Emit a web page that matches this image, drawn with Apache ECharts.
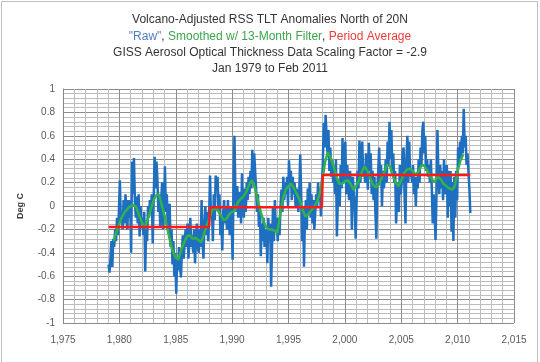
<!DOCTYPE html>
<html><head><meta charset="utf-8">
<script src="https://cdn.jsdelivr.net/npm/echarts@6/dist/echarts.min.js"></script>
<style>html,body{margin:0;padding:0;background:#fff}#c{width:540px;height:362px}</style>
</head><body><div id="c"></div>
<script>
// Monthly "raw" anomalies, Jan 1979 .. Feb 2011
const rawStartYear = 1979;
const rawValues = [
 // 1979
 -0.50,-0.57,-0.45,-0.30,-0.52,-0.28,-0.35,-0.20,-0.30,-0.10,-0.25,-0.05,
 // 1980
 0.22,-0.10,-0.05,-0.20,0.05,-0.15,0.10,-0.05,-0.20,0.05,-0.10,0.05,
 // 1981
 -0.40,0.38,0.10,0.41,0.05,-0.10,0.08,-0.15,0.10,-0.26,0.00,-0.15,
 // 1982
 -0.10,-0.25,-0.05,-0.56,-0.20,-0.30,0.00,-0.10,0.05,-0.05,0.10,-0.32,
 // 1983
 0.05,0.42,0.15,0.38,0.22,-0.05,0.10,-0.18,0.05,0.20,-0.20,0.00,
 // 1984
 0.34,-0.05,0.10,-0.20,-0.10,0.02,-0.35,-0.20,-0.50,-0.30,-0.60,-0.40,
 // 1985
 -0.75,-0.45,-0.55,-0.35,-0.50,-0.61,-0.40,-0.25,-0.45,-0.30,-0.20,-0.35,
 // 1986
 -0.15,-0.45,-0.30,-0.10,-0.35,-0.25,-0.40,-0.20,-0.49,-0.30,-0.15,-0.35,
 // 1987
 -0.40,-0.20,-0.35,0.05,-0.30,-0.45,-0.15,0.00,-0.25,-0.05,-0.30,-0.10,
 // 1988
 0.26,-0.10,0.00,-0.30,0.10,-0.12,0.26,0.15,0.25,-0.05,0.10,-0.25,
 // 1989
 -0.10,-0.38,-0.05,0.05,-0.15,0.00,-0.20,0.05,-0.10,-0.25,0.00,-0.15,
 // 1990
 -0.46,0.15,0.60,0.10,-0.05,0.17,-0.10,0.05,0.12,-0.15,0.28,0.05,
 // 1991
 -0.10,0.15,-0.05,0.20,0.05,0.25,0.10,0.30,0.15,0.48,0.20,0.45,
 // 1992
 0.30,0.15,-0.05,0.10,-0.18,0.00,-0.43,-0.15,-0.30,-0.10,-0.35,-0.20,
 // 1993
 -0.25,-0.49,-0.10,-0.30,-0.15,-0.69,-0.35,0.00,-0.30,0.05,-0.20,-0.10,
 // 1994
 -0.30,-0.10,-0.25,0.00,0.14,-0.05,0.25,0.05,0.20,0.10,0.25,0.00,
 // 1995
 0.39,0.20,0.30,0.05,0.25,0.10,0.20,0.00,0.15,0.10,-0.05,0.12,
 // 1996
 0.44,0.10,-0.30,0.00,-0.52,-0.10,0.05,-0.20,0.15,-0.05,0.20,-0.10,
 // 1997
 0.10,-0.15,0.05,-0.20,-0.05,0.10,0.00,0.20,0.05,0.15,-0.09,0.20,
 // 1998
 0.35,0.71,0.50,0.78,0.60,0.45,0.65,0.30,0.50,0.25,0.40,0.20,
 // 1999
 0.30,0.10,0.40,-0.26,0.05,0.20,0.00,0.35,0.15,0.58,0.20,0.40,
 // 2000
 0.55,0.10,0.35,0.20,0.05,0.30,0.15,-0.20,0.25,0.10,0.00,-0.28,
 // 2001
 0.05,0.30,0.15,0.56,0.20,0.40,0.55,0.25,0.35,0.20,0.45,0.30,
 // 2002
 0.14,0.54,0.30,0.45,0.10,0.30,0.05,0.25,-0.06,-0.28,0.15,0.30,
 // 2003
 0.50,0.20,0.35,0.00,0.30,0.15,0.25,0.40,0.20,0.55,0.35,0.72,
 // 2004
 0.40,0.65,0.30,0.45,0.20,0.30,-0.15,0.05,0.20,-0.05,0.35,0.10,
 // 2005
 0.20,0.45,0.50,0.10,-0.15,0.40,0.60,0.20,0.55,0.25,0.30,0.20,
 // 2006
 0.35,0.10,0.25,0.00,0.25,0.15,0.40,0.20,0.50,0.35,0.65,0.72,
 // 2007
 0.45,0.60,0.30,0.40,0.25,0.35,0.20,0.40,0.15,-0.15,0.10,-0.05,
 // 2008
 -0.29,0.10,0.65,0.30,0.10,0.35,0.15,0.30,0.05,0.40,0.15,0.10,
 // 2009
 0.35,-0.10,0.30,0.00,0.30,-0.22,0.20,-0.30,0.25,-0.10,0.30,0.05,
 // 2010
 0.50,0.35,0.55,0.40,0.60,0.45,0.83,0.50,0.60,0.35,0.45,0.30,
 // 2011
 0.15,-0.06
];

// 13-month smoothed curve, read at quarterly steps from mid-1979 to mid-2010
const smoothStartYear = 1979.5;
const smoothStepYears = 0.25;
const smoothValues = [
 -0.30,-0.22,-0.15,-0.09,-0.05,-0.02,0.00,0.01,-0.01,-0.08,
 -0.14,-0.18,-0.12,-0.04,0.04,0.09,0.10,0.01,-0.08,-0.19,
 -0.30,-0.39,-0.44,-0.46,-0.37,-0.31,-0.26,-0.25,-0.28,-0.27,
 -0.29,-0.31,-0.24,-0.17,-0.10,-0.03,-0.02,-0.04,-0.08,-0.12,
 -0.11,-0.07,-0.05,-0.04,0.03,0.06,0.08,0.12,0.18,0.22,
 0.16,0.06,-0.04,-0.12,-0.18,-0.20,-0.20,-0.21,-0.23,-0.08,
 0.06,0.14,0.17,0.19,0.15,0.10,0.05,-0.03,-0.09,-0.07,
 -0.04,-0.01,0.03,0.10,0.22,0.38,0.46,0.41,0.34,0.25,
 0.19,0.19,0.21,0.22,0.19,0.14,0.17,0.22,0.29,0.34,
 0.30,0.24,0.18,0.16,0.18,0.24,0.29,0.35,0.34,0.26,
 0.20,0.17,0.22,0.28,0.31,0.32,0.30,0.27,0.29,0.34,
 0.35,0.31,0.27,0.22,0.21,0.25,0.23,0.19,0.17,0.15,
 0.14,0.17,0.30,0.39,0.44
];

// Period averages
const periodStarts = [1979.0, 1988.0, 1998.0];
const periodEnds   = [1988.0, 1998.0, 2011.1667];
const periodMeans  = [-0.18, -0.01, 0.265];

const titleLines = [
 'Volcano-Adjusted RSS TLT Anomalies North of 20N',
 'GISS Aerosol Optical Thickness Data Scaling Factor = -2.9',
 'Jan 1979 to Feb 2011'
];

const rawData = rawValues.map((v, i) => [rawStartYear + (i + 0.5) / 12, v]);
const smoothData = smoothValues.map((v, i) => [smoothStartYear + i * smoothStepYears, v]);
const redData = [];
periodMeans.forEach((m, i) => {
  redData.push([periodStarts[i] + 1/24, m]);
  redData.push([periodEnds[i] - 1/24, m]);
});

const font = 'Liberation Sans';
const tStyle = {fontFamily: font, fontSize: 12, fontWeight: 'normal', color: '#333333'};
const chart = echarts.init(document.getElementById('c'), null, {renderer: 'canvas'});
chart.setOption({
  animation: false,
  backgroundColor: '#fff',
  title: [
    {text: titleLines[0], left: 'center', top: 9, textStyle: tStyle},
    {text: '{b|"Raw"}{k|, }{g|Smoothed w/ 13-Month Filter}{k|, }{r|Period Average}', left: 'center', top: 26,
     textStyle: {fontFamily: font, fontSize: 12, fontWeight: 'normal', rich: {
       b: {fontFamily: font, fontSize: 12, fontWeight: 'normal', color: '#4f81bd'},
       k: {fontFamily: font, fontSize: 12, fontWeight: 'normal', color: '#333333'},
       g: {fontFamily: font, fontSize: 12, fontWeight: 'normal', color: '#3aa64c'},
       r: {fontFamily: font, fontSize: 12, fontWeight: 'normal', color: '#f03c3c'}}}},
    {text: titleLines[1], left: 'center', top: 42, textStyle: tStyle},
    {text: titleLines[2], left: 'center', top: 58, textStyle: tStyle}
  ],
  graphic: [{type: 'rect', shape: {x: 1.5, y: 1.5, width: 536, height: 370}, style: {fill: 'none', stroke: '#bfbfbf', lineWidth: 1}, silent: true}],
  grid: {left: 63, right: 26, top: 89, bottom: 39},
  xAxis: {
    type: 'value', min: 1975, max: 2015, interval: 5,
    axisLine: {show: true, lineStyle: {color: '#868686'}},
    axisTick: {show: false},
    axisLabel: {fontFamily: font, fontSize: 10, color: '#595959', margin: 12},
    splitLine: {show: true, lineStyle: {color: '#8c8c8c', width: 1}},
    minorTick: {show: false, splitNumber: 5},
    minorSplitLine: {show: true, lineStyle: {color: '#bdbdbd', width: 1}}
  },
  yAxis: {
    type: 'value', min: -1, max: 1, interval: 0.2,
    name: 'Deg C', nameLocation: 'middle', nameGap: 38, nameRotate: 90,
    nameTextStyle: {fontFamily: font, fontSize: 9, fontWeight: 'bold', color: '#404040'},
    axisLine: {show: true, lineStyle: {color: '#868686'}},
    axisTick: {show: false},
    axisLabel: {fontFamily: font, fontSize: 10, color: '#595959', margin: 8},
    splitLine: {show: true, lineStyle: {color: '#8c8c8c', width: 1}},
    minorTick: {show: false, splitNumber: 5},
    minorSplitLine: {show: true, lineStyle: {color: '#bdbdbd', width: 1}}
  },
  series: [
    {type: 'line', data: rawData, showSymbol: false, lineStyle: {color: '#1f6fc0', width: 2.5}, z: 2},
    {type: 'line', data: smoothData, showSymbol: false, lineStyle: {color: '#2fb24a', width: 2.5}, z: 3},
    {type: 'line', data: redData, showSymbol: false, lineStyle: {color: '#ff1a1a', width: 2.5}, z: 4}
  ]
});
</script></body></html>
